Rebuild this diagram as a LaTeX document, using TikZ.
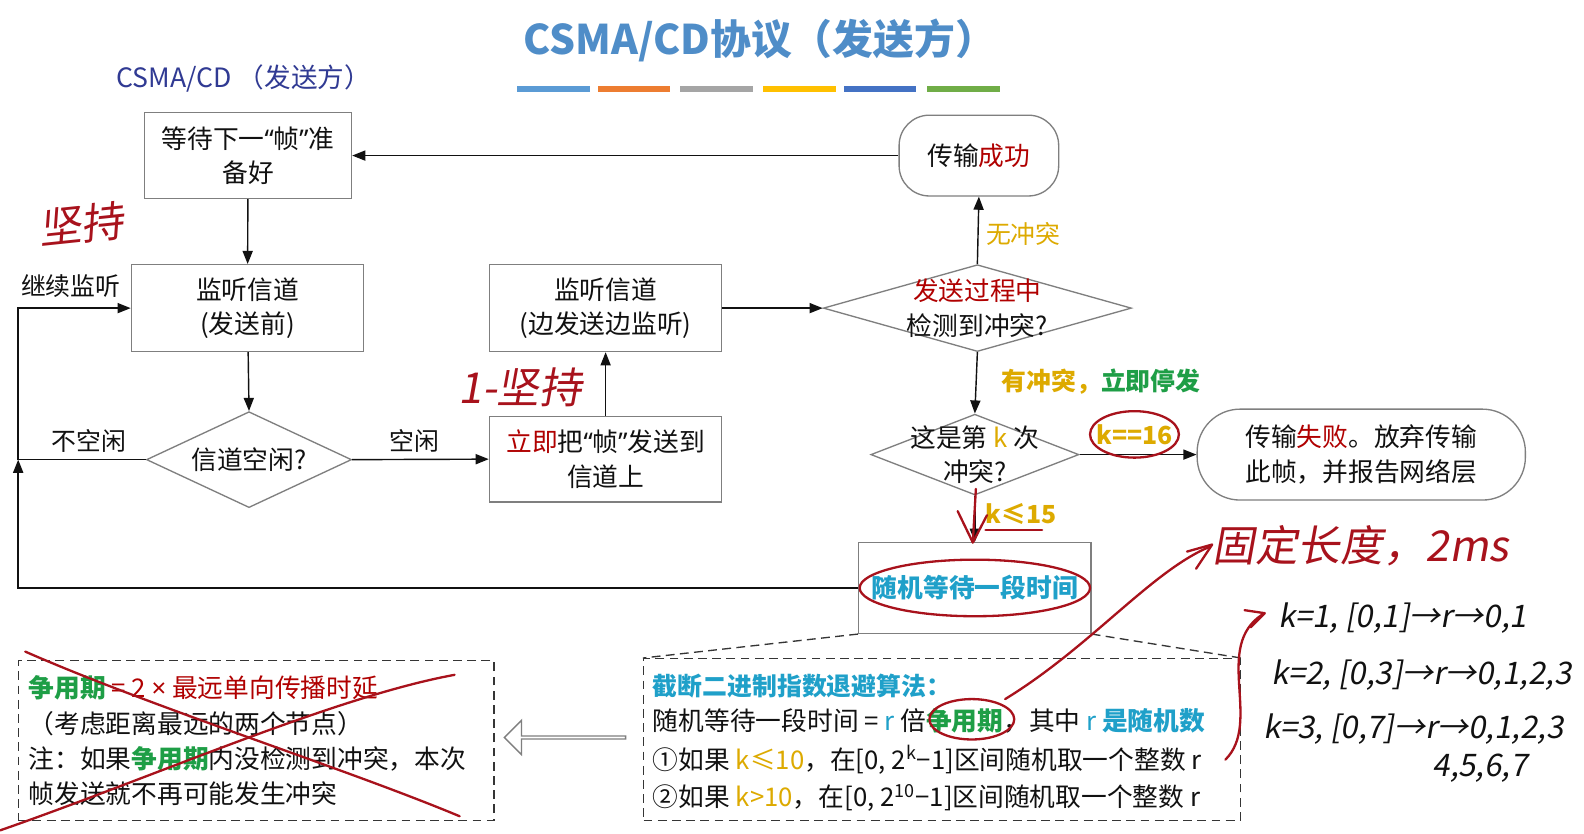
\documentclass[tikz,border=0pt]{standalone}
\usepackage{fontspec}
\setmainfont{Noto Sans CJK SC}
\newfontfamily\handfont[FakeSlant=0.18]{Noto Sans CJK SC}
\newfontfamily\latinfont{Noto Sans}
\newcommand{\openq}{{\latinfont “}}
\newcommand{\closeq}{{\latinfont ”}}
\usetikzlibrary{arrows.meta,calc,shapes.geometric,shapes.arrows}
\definecolor{ink}{HTML}{111111}
\definecolor{edge}{HTML}{7F7F7F}
\definecolor{titleblue}{HTML}{4F8DC8}
\definecolor{navy}{HTML}{303A93}
\definecolor{darkred}{HTML}{B00000}
\definecolor{gold}{HTML}{DDAA00}
\definecolor{leaf}{HTML}{1E9E46}
\definecolor{teal}{HTML}{1FA0C9}
\definecolor{scribble}{HTML}{A8121C}
\definecolor{barA}{HTML}{5B9BD5}
\definecolor{barB}{HTML}{ED7D31}
\definecolor{barC}{HTML}{A5A5A5}
\definecolor{barD}{HTML}{FFC000}
\definecolor{barE}{HTML}{4472C4}
\definecolor{barF}{HTML}{70AD47}
\tikzset{
  every node/.style={font=\fontsize{14.5}{19.5}\selectfont,text=ink,inner sep=0pt},
  title/.style={font=\bfseries\fontsize{23}{28}\selectfont,text=titleblue},
  sub/.style={font=\fontsize{15}{18}\selectfont,text=navy},
  tag/.style={font=\fontsize{14}{17}\selectfont},
  card/.style={draw=edge,line width=.75pt,fill=white,align=center,minimum width=4.6cm,minimum height=1.72cm},
  capsule/.style={card,rounded corners=6mm},
  ask/.style={diamond,draw=edge,line width=.75pt,fill=white},
  flow/.style={-{Triangle[length=2.6mm,width=2mm]},line width=.8pt,draw=ink},
  dashbox/.style={draw=ink!85,dash pattern=on 5pt off 3pt,line width=.75pt},
  hollow/.style={single arrow,draw=edge,line width=.75pt,fill=white,shape border rotate=180,
    minimum height=2.4cm,minimum width=.68cm,single arrow head extend=.14cm},
  pen/.style={draw=scribble,line width=1.3pt,line cap=round,line join=round},
  hand/.style={font=\handfont\fontsize{24}{28}\selectfont,text=scribble},
  jot/.style={font=\handfont\fontsize{17.5}{20}\selectfont,text=ink},
}

\begin{document}
\begin{tikzpicture}[x=0.02cm,y=-0.02cm]
\path[use as bounding box] (0,0) rectangle (1568,825);
\fill[white] (0,0) rectangle (1568,825);
\node[title] (head) at (752,40) {CSMA/CD协议（发送方）};
\foreach \xa/\xb/\tone in {512/584/barA,592/663/barB,673/745/barC,755/828/barD,835/907/barE,918/990/barF}
  \fill[\tone] (\xa,85) rectangle (\xb,91);
\node[sub,anchor=west] (course) at (115,78) {CSMA/CD （发送方）};
% sender loop: listen, send, detect
\node[card,minimum width=4.1cm,minimum height=1.7cm] (wait) at (245.5,154) {等待下一\openq 帧\closeq 准\\备好};
\node[capsule,minimum width=3.16cm,minimum height=1.6cm] (ok) at (969,154) {传输\textcolor{darkred}{成功}};
\node[card] (listenA) at (245,305) {监听信道\\(发送前)};
\node[ask,minimum width=4.06cm,minimum height=1.9cm] (idle) at (246.5,455) {};
\node (idleTxt) at (246.5,455) {信道空闲?};
\node[card,minimum height=1.7cm] (send) at (599.5,454.5) {\textcolor{darkred}{立即}把\openq 帧\closeq 发送到\\信道上};
\node[card] (listenB) at (599.5,305) {监听信道\\(边发送边监听)};
\node[ask,minimum width=6.1cm,minimum height=1.72cm] (detect) at (967.5,305) {};
\node[align=center] (detectTxt) at (967.5,305) {\textcolor{darkred}{发送过程中}\\检测到冲突?};
\node[ask,minimum width=4.12cm,minimum height=1.6cm] (count) at (965,450) {};
\node[align=center] (countTxt) at (965,450) {这是第 \textcolor{gold}{k} 次\\冲突?};
\node[capsule,rounded corners=8.5mm,minimum width=6.5cm,minimum height=1.8cm] (fail) at (1347.5,450) {传输\textcolor{darkred}{失败}。放弃传输\\此帧，并报告网络层};
\node[card,minimum height=1.8cm] (rand) at (965,582) {\textcolor{teal}{\bfseries 随机等待一段时间}};
\coordinate (back) at (18,455);
\draw[flow] (ok.west) -- (wait.east);
\draw[flow] (wait) -- (listenA);
\draw[flow] (listenA) -- (idle.north);
\draw[flow] (idle.east) -- (send.west);
\draw[flow] (send) -- (listenB);
\draw[flow] (listenB.east) -- (detect.west);
\draw[flow] (detect.north) -- (ok.south);
\draw[flow] (detect.south) -- (count.north);
\draw[flow] (count.east) -- (fail.west);
\draw[flow] (count.south) -- (rand.north);
\draw[flow] (rand.west) -| (back);
\draw[flow] (idle.west) -- (back) |- (listenA.west);
\node[tag] (lblBusy) at (88,437) {不空闲};
\node[tag] (lblKeep) at (70,283) {继续监听};
\node[tag] (lblIdle) at (410,437) {空闲};
\node[tag,text=gold] (lblNone) at (1013,232) {无冲突};
\node[tag,font=\bfseries\fontsize{14}{17}\selectfont] (lblHit) at (1090,378) {\textcolor{gold}{有冲突，}\textcolor{leaf}{立即停发}};
\node[tag,text=gold,font=\bfseries\fontsize{14}{17}\selectfont] (lblSixteen) at (1123,430) {k==16};
\node[tag,text=gold,font=\bfseries\fontsize{14}{17}\selectfont] (lblFifteen) at (1011,509) {k≤15};
% zoomed note: backoff rule
\node[dashbox,minimum width=11.82cm,minimum height=3.2cm] (algo) at (932.5,732) {};
\draw[dashbox] (rand.south west) -- (algo.north west);
\draw[dashbox] (rand.south east) -- (algo.north east);
\node[anchor=west,font=\bfseries\fontsize{14}{17}\selectfont,text=teal] (algoA) at (646,679) {截断二进制指数退避算法：};
\node[anchor=west] (algoB) at (646,714) {随机等待一段时间 = \textcolor{teal}{r} 倍\textcolor{leaf}{\bfseries 争用期}，其中 \textcolor{teal}{r \bfseries 是随机数}};
\node[anchor=west] (algoC) at (646,752) {①如果 \textcolor{gold}{k≤10}，在[0, 2\textsuperscript{k}−1]区间随机取一个整数 r};
\node[anchor=west] (algoD) at (646,790) {②如果 \textcolor{gold}{k>10}，在[0, 2\textsuperscript{10}−1]区间随机取一个整数 r};
\node[hollow] (pointer) at (560,730) {};
\node[dashbox,minimum width=9.42cm,minimum height=3.16cm] (period) at (253.5,733) {};
\node[anchor=west] (periodA) at (28,681) {\textcolor{leaf}{\bfseries 争用期} \textcolor{darkred}{= 2 {\latinfont ×} 最远单向传播时延}};
\node[anchor=west] (periodB) at (28,716) {（考虑距离最远的两个节点）};
\node[anchor=west] (periodC) at (28,751) {注：如果\textcolor{leaf}{\bfseries 争用期}内没检测到冲突，本次};
\node[anchor=west] (periodD) at (28,786) {帧发送就不再可能发生冲突};
% hand-written marks
\node[hand,rotate=6] (noteKeep) at (80,222) {坚持};
\node[hand] (noteOne) at (515,383) {1-坚持};
\node[hand] (noteFixed) at (1347,540) {固定长度，2ms};
\node[jot,anchor=west] (kOne) at (1265,612) {k=1, [0,1]→r→0,1};
\node[jot,anchor=west] (kTwo) at (1258,668) {k=2, [0,3]→r→0,1,2,3};
\node[jot,anchor=west] (kThree) at (1250,722) {k=3, [0,7]→r→0,1,2,3};
\node[jot,anchor=west] (kMore) at (1418,760) {4,5,6,7};
\draw[pen] (lblSixteen) ellipse [x radius=44,y radius=23];
\draw[pen] (rand) ellipse [x radius=114,y radius=28];
\draw[pen] (962,712) ellipse [x radius=42,y radius=20];
\draw[pen] ($(lblFifteen.south west)+(0,5)$) -- ++(56,0);
\draw[pen] (966,484) -- (963,537);
\draw[pen] (948,506) -- (963,537) -- (977,510);
\draw[pen] (995,692) .. controls (1080,640) and (1140,565) .. (1198,541);
\draw[pen] (1175,546) -- (1200,539) -- (1184,563);
\draw[pen] (1213,752) .. controls (1250,715) and (1200,640) .. (1250,608);
\draw[pen] (1232,604) -- (1252,607) -- (1238,621);
\draw[pen] (25,645) .. controls (150,700) and (340,760) .. (455,808);
\draw[pen] (0,822) .. controls (150,770) and (330,690) .. (450,668);
\end{tikzpicture}
\end{document}
